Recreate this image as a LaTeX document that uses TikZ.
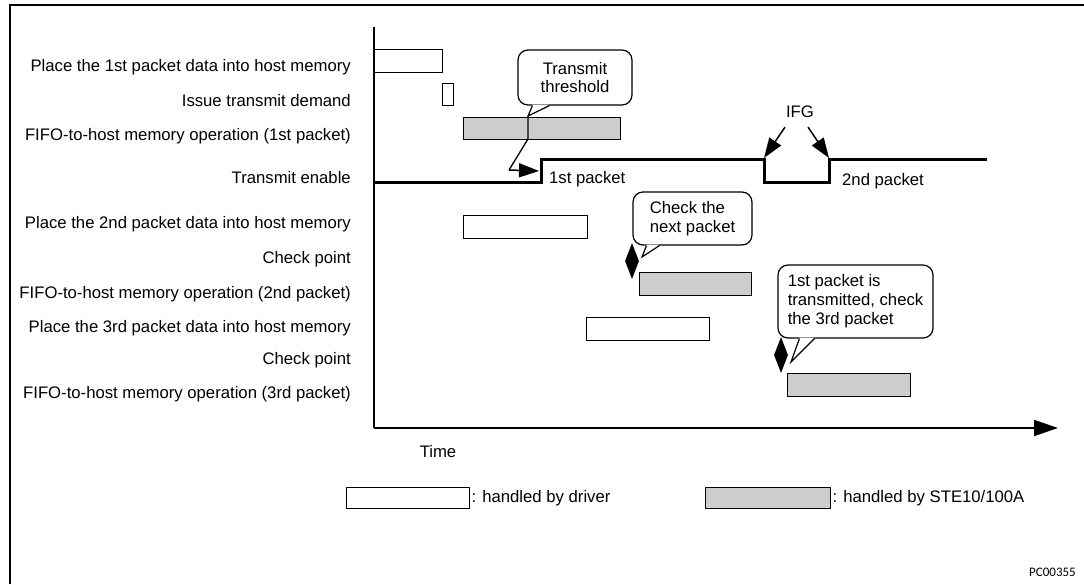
\documentclass[tikz,border=0pt]{standalone}
\usepackage{fontspec}
\setmainfont{Liberation Sans}
\newfontfamily\codefont{Carlito}
\usetikzlibrary{arrows.meta,shapes.geometric,positioning}
\definecolor{box_gray}{RGB}{205,205,205}

\begin{document}
\begin{tikzpicture}[
        x=1pt, y=-1pt,
        font=\fontsize{16.7}{18.5}\selectfont,
        rowlabel/.style={anchor=base east, inner sep=0pt},
        textlabel/.style={inner sep=0pt},
        drvbox/.style={draw, fill=white, line width=1.3pt, anchor=north west, inner sep=0pt},
        chipbox/.style={drvbox, fill=box_gray},
        bubble/.style={draw, fill=white, rounded corners=10pt, line width=1.2pt, align=left, inner sep=0pt},
        chkmark/.style={diamond, fill=black, inner sep=0pt, minimum width=14pt, minimum height=36pt},
        pointer/.style={line width=1.5pt, -{Triangle[length=20pt,width=14pt]}},
        signal/.style={line width=3pt, line join=miter},
    ]
    \useasboundingbox (0,0) rectangle (1084,584);

    % Frame
    \draw[line width=2.5pt] (10,584) -- (10,5) -- (1084,5);

    % Row labels
    \foreach \y/\t [count=\i] in {
            71/Place the 1st packet data into host memory,
            106/Issue transmit demand,
            140/FIFO-to-host memory operation (1st packet),
            183/Transmit enable,
            228/Place the 2nd packet data into host memory,
            263/Check point,
            298/FIFO-to-host memory operation (2nd packet),
            332/Place the 3rd packet data into host memory,
            364/Check point,
            398/FIFO-to-host memory operation (3rd packet)}
        \node[rowlabel] (row\i) at (351,\y) {\t};

    % Axes
    \coordinate (origin) at (374,428);
    \draw[line width=1.8pt] (374,27) -- (origin);
    \draw[line width=1.8pt, -{Triangle[length=24pt,width=16pt]}] (origin) -- (1058,428);
    \node[textlabel] (time) at (438,452) {Time};

    % Operations
    \node[drvbox, minimum width=68pt, minimum height=23pt] (drv1) at (374,49) {};
    \node[drvbox, minimum width=11pt, minimum height=22pt] (demand) at (442,83) {};
    \node[chipbox, minimum width=157pt, minimum height=22pt] (fifo1) at (463,117) {};
    \node[drvbox, minimum width=124pt, minimum height=23pt] (drv2) at (463,215) {};
    \node[chipbox, minimum width=112pt, minimum height=23pt] (fifo2) at (639,272) {};
    \node[drvbox, minimum width=123pt, minimum height=23pt] (drv3) at (586,317) {};
    \node[chipbox, minimum width=123pt, minimum height=23pt] (fifo3) at (787,373) {};

    % Transmit enable
    \draw[signal] (374,182) -- (541,182) -- (541,159) -- (764,159) -- (764,182)
        -- (829,182) -- (829,159) -- (987,159);
    \node[anchor=base west, inner sep=0pt] (pk1) at (549,183) {1st packet};
    \node[anchor=base west, inner sep=0pt] (pk2) at (842,185) {2nd packet};

    % Transmit threshold
    \node[bubble, align=center, minimum width=114pt, minimum height=55pt] (thr) at (575,77.5) {Transmit\\threshold};
    \coordinate (thrtip) at (528,116);
    \coordinate (thrbend) at (528,139);
    \coordinate (thrfoot) at (509,170);
    \coordinate (rise1) at (539,171);
    \fill[white] ([xshift=15pt,yshift=1pt]thr.south west) -- (thrtip) -- ([xshift=32pt,yshift=1pt]thr.south west) -- cycle;
    \draw[line width=1.2pt] ([xshift=15pt]thr.south west) -- (thrtip) -- ([xshift=32pt]thr.south west);
    \draw[line width=1.3pt] (thrtip) -- (thrbend) -- (thrfoot);
    \draw[pointer] (thrfoot) -- (rise1);

    % Inter frame gap
    \node[textlabel] (ifg) at (800,112) {IFG};
    \coordinate (gapstart) at (764,158);
    \coordinate (gapend) at (829,158);
    \draw[pointer] ([xshift=-15pt,yshift=-9pt]ifg.south) -- (gapstart);
    \draw[pointer] ([xshift=8pt,yshift=-9pt]ifg.south) -- (gapend);

    % Check points
    \node[chkmark] (chk1) at (632,261) {};
    \node[chkmark] (chk2) at (781,355) {};

    \node[bubble, minimum width=119pt, minimum height=53pt] (nextpk) at (692.5,218.5) {Check the\\next packet};
    \coordinate (nexttip) at (642,257);
    \fill[white] ([xshift=14pt,yshift=1pt]nextpk.south west) -- (nexttip) -- ([xshift=27pt,yshift=1pt]nextpk.south west) -- cycle;
    \draw[line width=1.2pt] ([xshift=14pt]nextpk.south west) -- (nexttip) -- ([xshift=27pt]nextpk.south west);

    \node[bubble, minimum width=155pt, minimum height=73pt, font=\fontsize{16.7}{19}\selectfont] (thirdpk) at (855.5,301.5) {1st packet is\\transmitted, check\\the 3rd packet};
    \coordinate (thirdtip) at (791,362);
    \fill[white] ([xshift=22pt,yshift=1pt]thirdpk.south west) -- (thirdtip) -- ([xshift=37pt,yshift=1pt]thirdpk.south west) -- cycle;
    \draw[line width=1.2pt] ([xshift=22pt]thirdpk.south west) -- (thirdtip) -- ([xshift=37pt]thirdpk.south west);

    % Legend
    \node[drvbox, minimum width=123pt, minimum height=21pt] (keydrv) at (346,487) {};
    \node[textlabel, right=1pt of keydrv] (keydrvtxt) {: handled by driver};
    \node[chipbox, minimum width=125pt, minimum height=21pt] (keychip) at (705,487) {};
    \node[textlabel, right=1pt of keychip] (keychiptxt) {: handled by STE10/100A};

    % Figure number
    \node[anchor=base east, inner sep=0pt, font=\codefont\fontsize{13}{15}\selectfont] (figid) at (1076,576) {PC00355};
\end{tikzpicture}
\end{document}
